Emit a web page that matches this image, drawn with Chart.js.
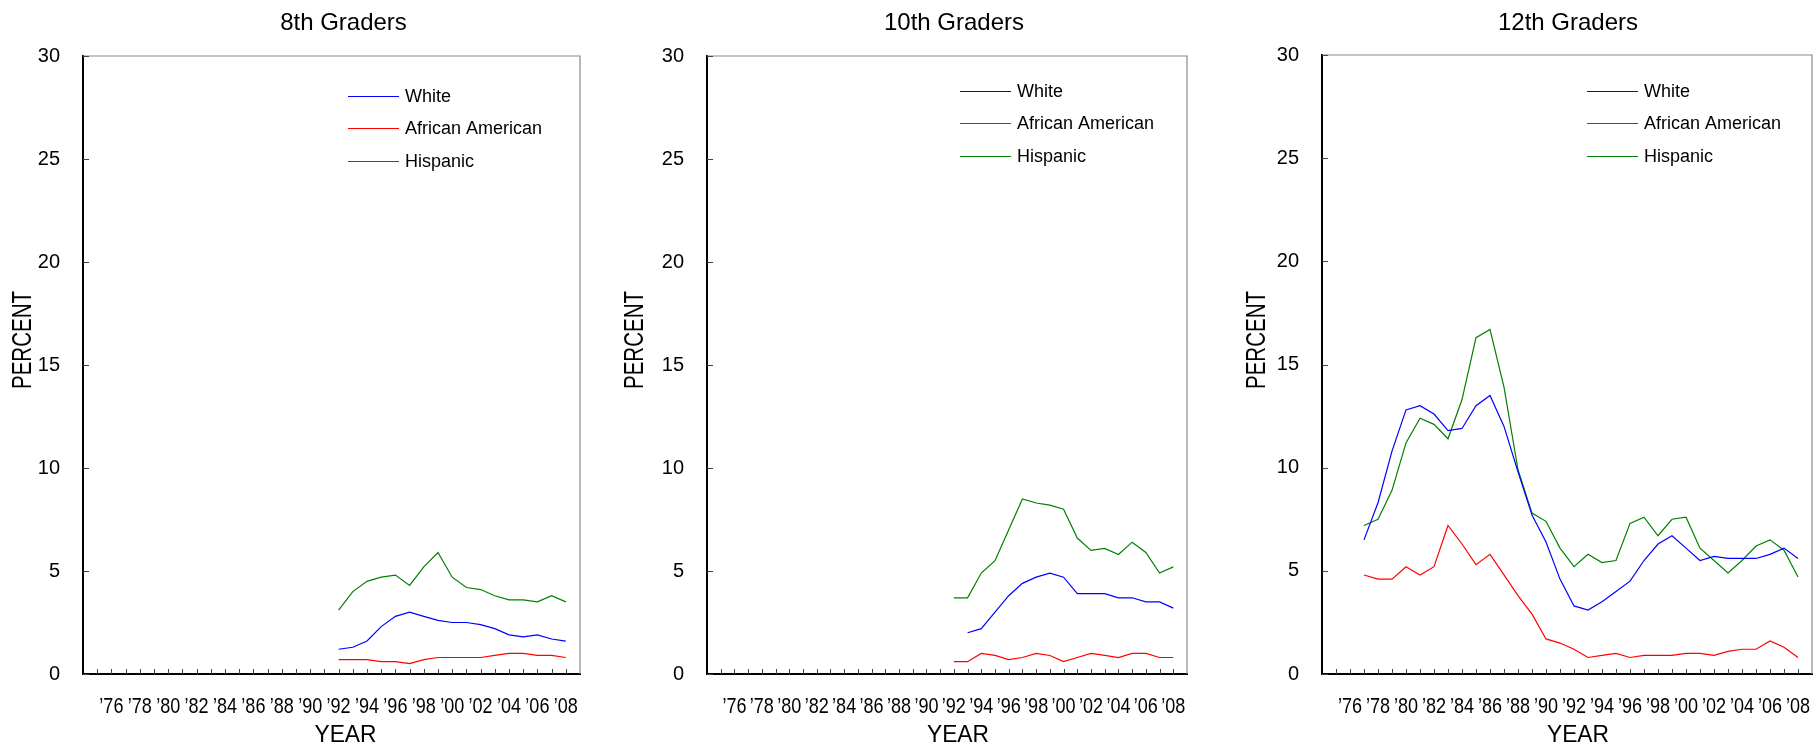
<!DOCTYPE html>
<html>
<head>
<meta charset="utf-8">
<title>Percent by grade and race</title>
<script src="https://cdn.jsdelivr.net/npm/chart.js@4.4.1/dist/chart.umd.min.js"></script>
<style>
  body { margin: 0; background: #fff; width: 1815px; height: 750px; overflow: hidden; }
  .panel { position: absolute; top: 0; height: 750px; }
</style>
</head>
<body>
<div class="panel" style="left:0;width:600px"><canvas id="chart8"></canvas></div>
<div class="panel" style="left:600px;width:600px"><canvas id="chart10"></canvas></div>
<div class="panel" style="left:1200px;width:615px"><canvas id="chart12"></canvas></div>
<script>
// x-axis tick labels (only even years get a label)
const xTickYears = [1976, 1978, 1980, 1982, 1984, 1986, 1988, 1990, 1992, 1994, 1996, 1998, 2000, 2002, 2004, 2006, 2008];
const xTickLabels = ["’76", "’78", "’80", "’82", "’84", "’86", "’88", "’90", "’92", "’94", "’96", "’98", "’00", "’02", "’04", "’06", "’08"];
const seriesNames = ["White", "African American", "Hispanic"];

// 8th graders
const years8 = [1992, 1993, 1994, 1995, 1996, 1997, 1998, 1999, 2000, 2001, 2002, 2003, 2004, 2005, 2006, 2007, 2008];
const white8 = [1.2, 1.3, 1.6, 2.3, 2.8, 3.0, 2.8, 2.6, 2.5, 2.5, 2.4, 2.2, 1.9, 1.8, 1.9, 1.7, 1.6];
const black8 = [0.7, 0.7, 0.7, 0.6, 0.6, 0.5, 0.7, 0.8, 0.8, 0.8, 0.8, 0.9, 1.0, 1.0, 0.9, 0.9, 0.8];
const hispanic8 = [3.1, 4.0, 4.5, 4.7, 4.8, 4.3, 5.2, 5.9, 4.7, 4.2, 4.1, 3.8, 3.6, 3.6, 3.5, 3.8, 3.5];

// 10th graders
const years10 = [1992, 1993, 1994, 1995, 1996, 1997, 1998, 1999, 2000, 2001, 2002, 2003, 2004, 2005, 2006, 2007, 2008];
const white10 = [null, 2.0, 2.2, 3.0, 3.8, 4.4, 4.7, 4.9, 4.7, 3.9, 3.9, 3.9, 3.7, 3.7, 3.5, 3.5, 3.2];
const black10 = [0.6, 0.6, 1.0, 0.9, 0.7, 0.8, 1.0, 0.9, 0.6, 0.8, 1.0, 0.9, 0.8, 1.0, 1.0, 0.8, 0.8];
const hispanic10 = [3.7, 3.7, 4.9, 5.5, 7.0, 8.5, 8.3, 8.2, 8.0, 6.6, 6.0, 6.1, 5.8, 6.4, 5.9, 4.9, 5.2];

// 12th graders
const years12 = [1977, 1978, 1979, 1980, 1981, 1982, 1983, 1984, 1985, 1986, 1987, 1988, 1989, 1990, 1991, 1992,
                 1993, 1994, 1995, 1996, 1997, 1998, 1999, 2000, 2001, 2002, 2003, 2004, 2005, 2006, 2007, 2008];
const white12 = [6.5, 8.3, 10.8, 12.8, 13.0, 12.6, 11.8, 11.9, 13.0, 13.5, 12.0, 9.8, 7.7, 6.4, 4.6, 3.3,
                 3.1, 3.5, 4.0, 4.5, 5.5, 6.3, 6.7, 6.1, 5.5, 5.7, 5.6, 5.6, 5.6, 5.8, 6.1, 5.6];
const black12 = [4.8, 4.6, 4.6, 5.2, 4.8, 5.2, 7.2, 6.3, 5.3, 5.8, 4.8, 3.8, 2.9, 1.7, 1.5, 1.2,
                 0.8, 0.9, 1.0, 0.8, 0.9, 0.9, 0.9, 1.0, 1.0, 0.9, 1.1, 1.2, 1.2, 1.6, 1.3, 0.8];
const hispanic12 = [7.2, 7.5, 8.9, 11.2, 12.4, 12.1, 11.4, 13.3, 16.3, 16.7, 13.9, 9.9, 7.8, 7.4, 6.1, 5.2,
                    5.8, 5.4, 5.5, 7.3, 7.6, 6.7, 7.5, 7.6, 6.1, 5.5, 4.9, 5.5, 6.2, 6.5, 6.0, 4.7];

const seriesColors = ["#0000ff", "#ff0000", "#008000"];
const FONT = "'Liberation Sans', Arial, sans-serif";

Chart.defaults.font.family = FONT;
Chart.defaults.color = "#000";

// per-panel layout tweaks
const panels = [
  { id: "chart8", title: "8th Graders", years: years8, series: [white8, black8, hispanic8],
    axisW: 83, padR: 20, padT: 56, titleDx: 12, yearDx: 14, percentGap: 59, legX: 265, legY: 40 },
  { id: "chart10", title: "10th Graders", years: years10, series: [white10, black10, hispanic10],
    axisW: 107, padR: 13, padT: 56, titleDx: 7, yearDx: 11, percentGap: 71, legX: 253, legY: 35 },
  { id: "chart12", title: "12th Graders", years: years12, series: [white12, black12, hispanic12],
    axisW: 122, padR: 3, padT: 55, titleDx: 1, yearDx: 11, percentGap: 64, legX: 265, legY: 36 }
];

// text drawn squeezed horizontally, like the condensed lettering of the original
function squeezedText(ctx, text, x, y, sx) {
  ctx.save();
  ctx.translate(x, y);
  ctx.scale(sx, 1);
  ctx.fillText(text, 0, 0);
  ctx.restore();
}

// titles, axis titles, frame, inward tick marks, year labels and the in-plot legend
const decorPlugin = {
  id: "decor",
  beforeDatasetsDraw(chart) {
    const { ctx, chartArea: a } = chart;
    ctx.save();
    ctx.strokeStyle = "#8a8a8a";
    ctx.lineWidth = 1.2;
    ctx.beginPath();
    ctx.moveTo(a.left, a.top);
    ctx.lineTo(a.right, a.top);
    ctx.lineTo(a.right, a.bottom);
    ctx.stroke();

    // inward ticks
    const xs = chart.scales.x, ys = chart.scales.y;
    ctx.strokeStyle = "#444";
    ctx.lineWidth = 1;
    ctx.beginPath();
    xs.ticks.forEach(t => {
      const px = Math.round(xs.getPixelForValue(t.value)) + 0.5;
      ctx.moveTo(px, a.bottom);
      ctx.lineTo(px, a.bottom - 5);
    });
    ys.ticks.forEach(t => {
      const py = Math.round(ys.getPixelForValue(t.value)) + 0.5;
      ctx.moveTo(a.left, py);
      ctx.lineTo(a.left + 6, py);
    });
    ctx.stroke();
    ctx.restore();
  },
  afterDraw(chart, args, opts) {
    const { ctx, chartArea: a } = chart;
    const xs = chart.scales.x;
    const cx = (a.left + a.right) / 2;
    ctx.save();
    ctx.fillStyle = "#000";
    ctx.textBaseline = "middle";
    ctx.textAlign = "center";

    ctx.font = "24px " + FONT;
    ctx.fillText(opts.title, cx + opts.titleDx, 23);

    // year tick labels
    ctx.font = "22px " + FONT;
    xTickYears.forEach((yr, i) => {
      squeezedText(ctx, xTickLabels[i], xs.getPixelForValue(yr), a.bottom + 33, 0.82);
    });

    ctx.font = "24px " + FONT;
    squeezedText(ctx, "YEAR", cx + opts.yearDx, 735, 0.95);

    ctx.save();
    ctx.translate(a.left - opts.percentGap, 340);
    ctx.rotate(-Math.PI / 2);
    ctx.font = "27px " + FONT;
    squeezedText(ctx, "PERCENT", 0, 0, 0.76);
    ctx.restore();

    // legend
    ctx.textAlign = "left";
    ctx.font = "18px " + FONT;
    chart.data.datasets.forEach((ds, i) => {
      const y = a.top + opts.legY + i * 32.4;
      const x = a.left + opts.legX;
      ctx.strokeStyle = ds.borderColor;
      ctx.lineWidth = 1.2;
      ctx.beginPath();
      ctx.moveTo(x, Math.round(y) + 0.5);
      ctx.lineTo(x + 51, Math.round(y) + 0.5);
      ctx.stroke();
      ctx.fillText(ds.label, x + 57, y + 1);
    });
    ctx.restore();
  }
};

panels.forEach(p => {
  const datasets = p.series.map((vals, i) => ({
    label: seriesNames[i],
    data: p.years.map((yr, j) => ({ x: yr, y: vals[j] })),
    borderColor: seriesColors[i],
    borderWidth: 1.2,
    pointRadius: 0,
    tension: 0,
    fill: false
  }));

  new Chart(document.getElementById(p.id), {
    type: "line",
    data: { datasets },
    plugins: [decorPlugin],
    options: {
      responsive: true,
      maintainAspectRatio: false,
      animation: false,
      layout: { padding: { top: p.padT, right: p.padR, left: 0, bottom: 0 } },
      plugins: {
        legend: { display: false },
        tooltip: { enabled: false },
        decor: p
      },
      scales: {
        x: {
          type: "linear",
          min: 1974,
          max: 2009,
          grid: { display: false, drawTicks: false },
          border: { display: true, color: "#000", width: 2 },
          afterBuildTicks: scale => {
            scale.ticks = scale.ticks.filter(t => t.value >= 1975 && t.value <= 2008);
          },
          afterFit: scale => { scale.height = 76; },
          ticks: { stepSize: 1, display: false }
        },
        y: {
          min: 0,
          max: 30,
          grid: { display: false, drawTicks: false },
          border: { display: true, color: "#000", width: 2 },
          afterFit: scale => { scale.width = p.axisW; },
          ticks: { stepSize: 5, padding: 23, font: { size: 20 } }
        }
      }
    }
  });
});
</script>
</body>
</html>
